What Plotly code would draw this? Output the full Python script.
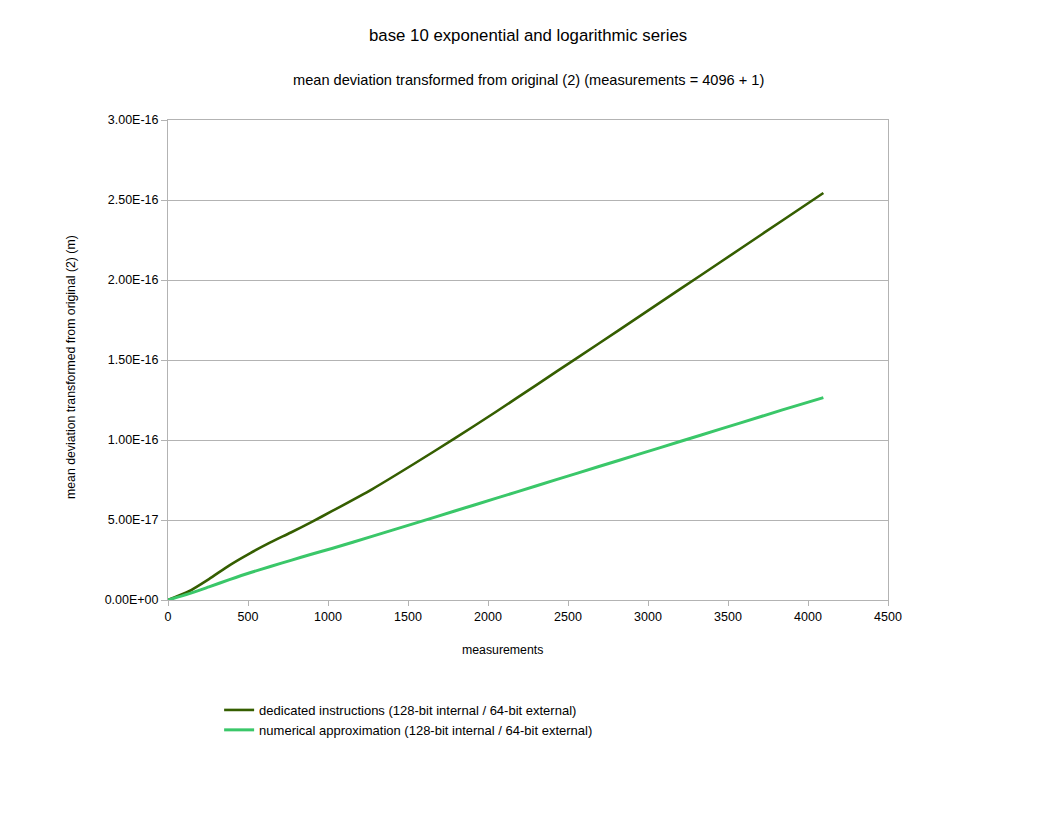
import plotly.graph_objects as go

# ---- data ----
measurements = [0, 128, 256, 384, 512, 640, 768, 896, 1024, 1280, 1536, 1792,
                2048, 2304, 2560, 2816, 3072, 3328, 3584, 3840, 4096]
dedicated = [0.0, 5.3e-18, 1.31e-17, 2.17e-17, 2.92e-17, 3.6e-17, 4.22e-17,
             4.87e-17, 5.55e-17, 6.95e-17, 8.5e-17, 1.01e-16, 1.175e-16,
             1.345e-16, 1.515e-16, 1.685e-16, 1.857e-16, 2.028e-16, 2.2e-16,
             2.372e-16, 2.544e-16]
numerical = [0.0, 3.8e-18, 8.2e-18, 1.27e-17, 1.70e-17, 2.09e-17, 2.48e-17,
             2.86e-17, 3.22e-17, 3.99e-17, 4.77e-17, 5.56e-17, 6.35e-17,
             7.14e-17, 7.93e-17, 8.72e-17, 9.51e-17, 1.030e-16, 1.109e-16,
             1.188e-16, 1.265e-16]
series_names = ["dedicated instructions (128-bit internal / 64-bit external)",
                "numerical approximation (128-bit internal / 64-bit external)"]
y_tick_vals = [0, 5e-17, 1e-16, 1.5e-16, 2e-16, 2.5e-16, 3e-16]
y_tick_text = ["0.00E+00", "5.00E-17", "1.00E-16", "1.50E-16", "2.00E-16",
               "2.50E-16", "3.00E-16"]
x_tick_vals = [0, 500, 1000, 1500, 2000, 2500, 3000, 3500, 4000, 4500]

FONT = "Liberation Sans, Arial, sans-serif"
GRID = "#b3b3b3"
PLOT_H = 480.0
PLOT_W = 720.0

def py(pix):
    # screenshot row -> paper y (plot area spans rows 120..600)
    return (600 - pix) / PLOT_H

def px(pix):
    # screenshot column -> paper x (plot area spans columns 168..888)
    return (pix - 168) / PLOT_W

fig = go.Figure()
fig.add_trace(go.Scatter(x=measurements, y=dedicated, mode="lines",
                         name=series_names[0],
                         line=dict(color="#355e00", width=2.6, shape="spline",
                                   smoothing=0.6)))
fig.add_trace(go.Scatter(x=measurements, y=numerical, mode="lines",
                         name=series_names[1],
                         line=dict(color="#3ac769", width=3, shape="spline",
                                   smoothing=0.6)))

fig.update_layout(
    width=1056, height=816,
    margin=dict(l=160, r=176, t=112, b=224),
    paper_bgcolor="white", plot_bgcolor="white",
    font=dict(family=FONT, size=12, color="#000000"),
    showlegend=True,
    legend=dict(x=0.071, y=py(695), xanchor="left", yanchor="top",
                font=dict(size=13, family=FONT), bgcolor="rgba(0,0,0,0)",
                tracegroupgap=0),
    xaxis=dict(range=[0, 4500], tickvals=x_tick_vals, showgrid=False,
               showline=True, mirror=True, linecolor=GRID, linewidth=1,
               ticks="outside", ticklen=5, tickcolor=GRID, zeroline=False,
               tickfont=dict(size=12.5, family=FONT)),
    yaxis=dict(range=[0, 3e-16], tickvals=y_tick_vals, ticktext=y_tick_text,
               showgrid=True, gridcolor=GRID, gridwidth=1,
               showline=True, mirror=True, linecolor=GRID, linewidth=1,
               ticks="outside", ticklen=6, tickcolor=GRID, zeroline=False,
               tickfont=dict(size=12.5, family=FONT)),
    annotations=[
        dict(text="base 10 exponential and logarithmic series",
             xref="paper", yref="paper", x=0.5, y=py(36),
             xanchor="center", yanchor="middle", showarrow=False,
             font=dict(size=16.8, family=FONT)),
        dict(text="mean deviation transformed from original (2) (measurements = 4096 + 1)",
             xref="paper", yref="paper", x=0.5, y=py(80),
             xanchor="center", yanchor="middle", showarrow=False,
             font=dict(size=14.6, family=FONT)),
        dict(text="measurements", xref="paper", yref="paper",
             x=px(502), y=py(650), xanchor="center", yanchor="middle",
             showarrow=False, font=dict(size=12.3, family=FONT)),
        dict(text="mean deviation transformed from original (2) (m)",
             xref="paper", yref="paper", x=px(71), y=py(367),
             xanchor="center", yanchor="middle", textangle=-90,
             showarrow=False, font=dict(size=12.3, family=FONT)),
    ],
)

fig.write_html("out.html")
